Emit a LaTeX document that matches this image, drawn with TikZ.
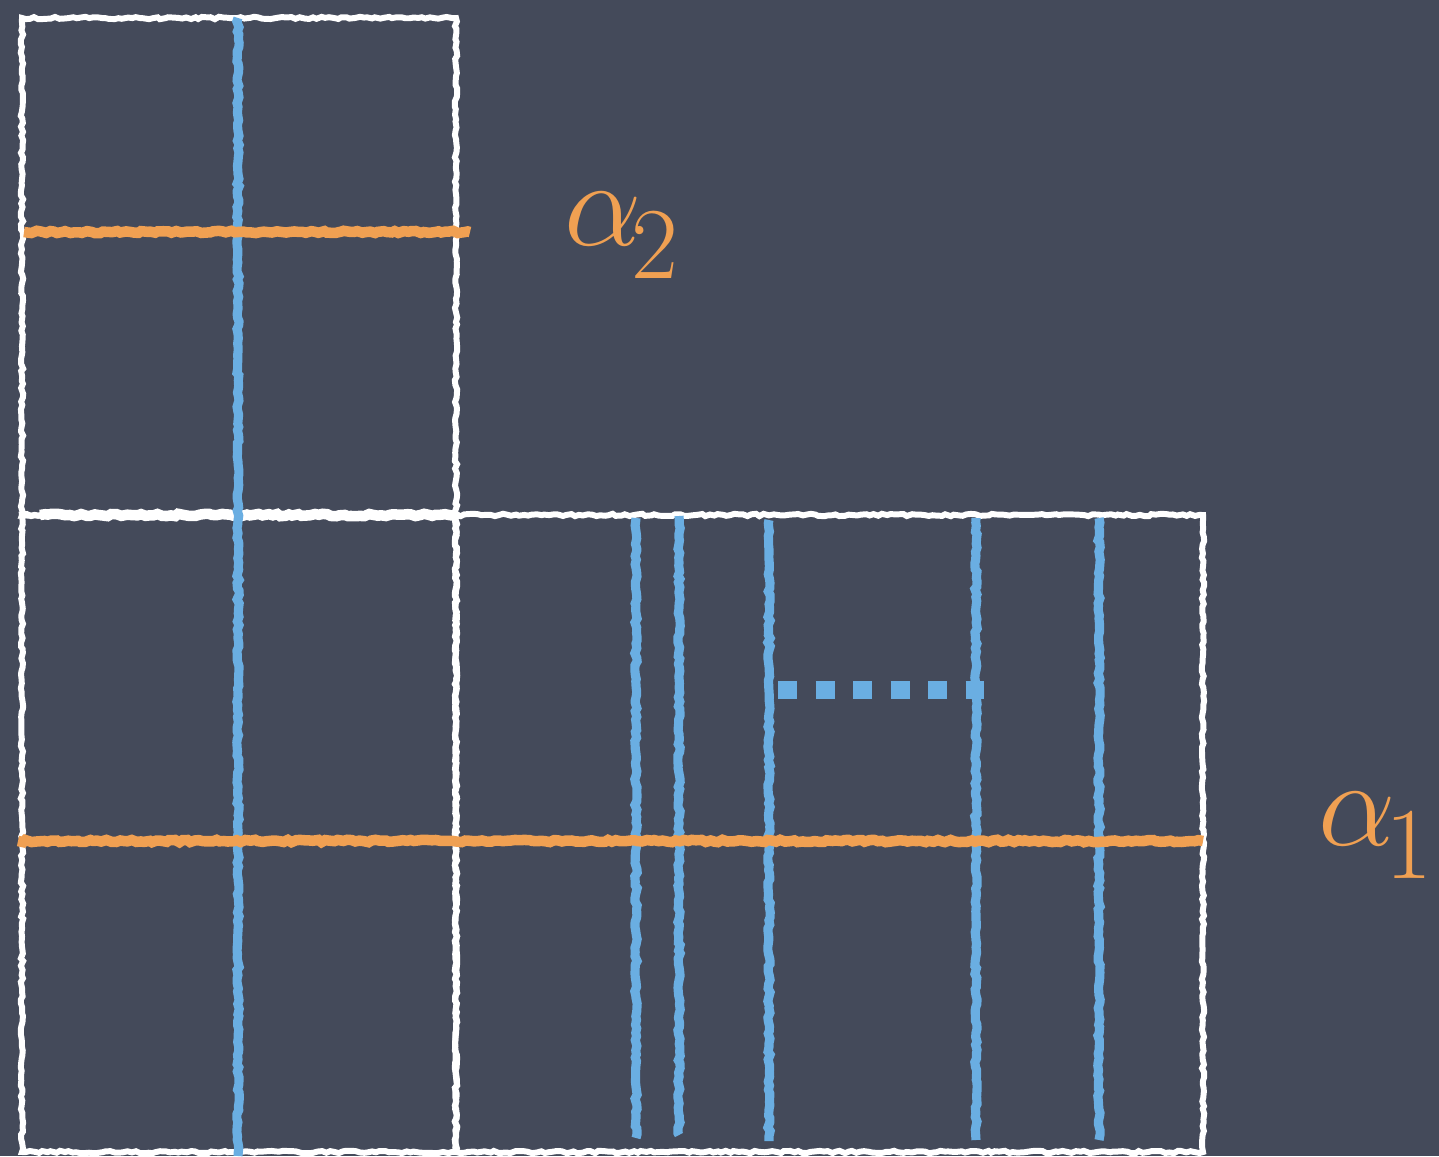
\documentclass[tikz,border=0pt]{standalone}
\usepackage{fix-cm}
\usetikzlibrary{decorations.pathmorphing}
\definecolor{board}{HTML}{444A5A}
\definecolor{chalkblue}{HTML}{6AAEE2}
\definecolor{chalkorange}{HTML}{F0A052}
\tikzstyle{chalk}=[decorate,decoration={random steps,segment length=1.2pt,amplitude=0.35pt},line cap=butt]
\tikzstyle{whitechalk}=[chalk,draw=white,line width=1.7pt]
\tikzstyle{bluechalk}=[chalk,draw=chalkblue,line width=2.6pt]
\tikzstyle{orangechalk}=[chalk,draw=chalkorange,line width=3pt]
\tikzstyle{dotsty}=[draw=chalkblue,line width=0.18cm,dash pattern=on 0.19cm off 0.185cm]
\tikzstyle{labelsty}=[text=chalkorange,inner sep=0pt,font=\fontsize{35}{35}\selectfont]
\newcommand{\alphasub}[1]{$\alpha$\kern-3pt\raisebox{-9.5pt}{\fontsize{29}{29}\selectfont #1}}

\begin{document}
\begin{tikzpicture}[x=0.1mm,y=-0.1mm]
	\fill[board] (0,0) rectangle (1439,1156);
	\useasboundingbox (0,0) rectangle (1439,1156);
	% boxes
	\coordinate (tl) at (22,18);
	\coordinate (mid) at (456,515);
	\coordinate (br) at (1203,1152);
	\draw[whitechalk] (tl) rectangle (mid);
	\draw[whitechalk] (22,515) rectangle (456,1152);
	\draw[whitechalk] (mid) rectangle (br);
	\draw[whitechalk,line width=3pt] (40,515) -- (456,515);
	% blue lines
	\draw[bluechalk] (238,18) -- (238,1156);
	\foreach \x/\ya/\yb in {636/518/1138,679/516/1135,769/520/1141,976/518/1140,1099/518/1140}
		\draw[bluechalk] (\x,\ya) -- (\x,\yb);
	\coordinate (d0) at (778,690);
	\coordinate (d1) at (984,690);
	\draw[dotsty] (d0) -- (d1);
	% orange lines
	\draw[orangechalk] (24,232) -- (470,232);
	\draw[orangechalk] (18,841) -- (1203,841);
	% labels
	\node[labelsty,anchor=base west] (a2) at (564,245) {\alphasub{2}};
	\node[labelsty,anchor=base west] (a1) at (1318,845) {\alphasub{1}};
\end{tikzpicture}
\end{document}
